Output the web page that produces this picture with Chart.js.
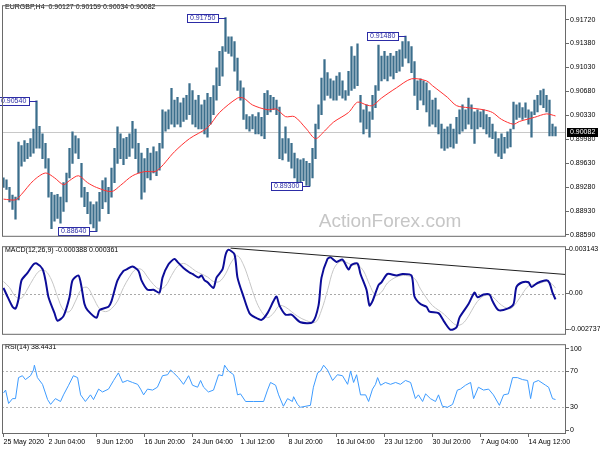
<!DOCTYPE html>
<html>
<head>
<meta charset="utf-8">
<script src="https://cdn.jsdelivr.net/npm/chart.js@4.4.0/dist/chart.umd.min.js"></script>
<style>
  html, body { margin: 0; padding: 0; background: #fff; }
  #wrap { position: relative; width: 600px; height: 450px; overflow: hidden; background: #fff; }
  canvas { position: absolute; left: 0; }
</style>
</head>
<body>
<div id="wrap">
  <canvas id="priceChart" width="600" height="242" style="top:0px"></canvas>
  <canvas id="macdChart" width="600" height="97" style="top:242px"></canvas>
  <canvas id="rsiChart" width="600" height="111" style="top:339px"></canvas>
</div>
<script>
// ---- DATA (one entry = two H4 bars) ----
var symbol = 'EURGBP,H4';
var lastBar = [0.90127, 0.90159, 0.90034, 0.90082]; // open high low close
var watermark = 'ActionForex.com';

var barHigh = [
  0.8942,0.8939,0.8928,0.8917,0.8914,0.8994,0.8989,0.8996,0.8992,0.8999,
  0.9013,0.9054,0.9017,0.9006,0.8992,0.8970,0.8921,0.8917,0.8918,0.8914,
  0.8935,0.8949,0.8985,0.9009,0.9003,0.8999,0.8963,0.8928,0.8921,0.8907,
  0.8903,0.8907,0.8921,0.8938,0.8942,0.8928,0.8956,0.8985,0.9016,0.9006,
  0.8999,0.9001,0.9006,0.9024,0.9013,0.8992,0.8978,0.8970,0.8985,0.8978,
  0.8987,0.8980,0.8992,0.9041,0.9038,0.9041,0.9072,0.9055,0.9059,0.9051,
  0.9058,0.9062,0.9079,0.9069,0.9055,0.9062,0.9048,0.9055,0.9065,0.9059,
  0.9076,0.9102,0.9126,0.9133,0.9175,0.9147,0.9147,0.9140,0.9116,0.9083,
  0.9073,0.9034,0.9031,0.9034,0.9031,0.9037,0.9030,0.9065,0.9069,0.9062,
  0.9059,0.9055,0.9045,0.8999,0.9016,0.8999,0.8992,0.8978,0.8970,0.8968,
  0.8970,0.8966,0.8963,0.8985,0.9020,0.9048,0.9087,0.9114,0.9095,0.9086,
  0.9083,0.9090,0.9095,0.9083,0.9069,0.9097,0.9133,0.9119,0.9137,0.9062,
  0.9041,0.9048,0.9038,0.9062,0.9076,0.9135,0.9119,0.9126,0.9119,0.9123,
  0.9119,0.9126,0.9128,0.9140,0.9148,0.9140,0.9133,0.9111,0.9083,0.9086,
  0.9083,0.9080,0.9069,0.9055,0.9058,0.9041,0.9020,0.9013,0.9016,0.9020,
  0.9013,0.9030,0.9041,0.9048,0.9041,0.9058,0.9048,0.9038,0.9041,0.9038,
  0.9041,0.9034,0.9030,0.9020,0.9009,0.8999,0.9006,0.9001,0.9009,0.9013,
  0.9052,0.9048,0.9051,0.9044,0.9051,0.9041,0.9038,0.9055,0.9062,0.9069,
  0.9071,0.9062,0.9055,0.9020,0.9016
];
var barLow = [
  0.8928,0.8925,0.8907,0.8896,0.8882,0.8910,0.8959,0.8966,0.8970,0.8973,
  0.8978,0.8985,0.8985,0.8970,0.8956,0.8914,0.8868,0.8879,0.8883,0.8876,
  0.8893,0.8907,0.8942,0.8963,0.8978,0.8970,0.8914,0.8900,0.8890,0.8875,
  0.8869,0.8864,0.8879,0.8897,0.8907,0.8890,0.8914,0.8935,0.8963,0.8970,
  0.8961,0.8970,0.8973,0.8985,0.8970,0.8949,0.8911,0.8921,0.8942,0.8939,
  0.8949,0.8945,0.8953,0.8985,0.9010,0.9013,0.9020,0.9016,0.9020,0.9016,
  0.9024,0.9027,0.9034,0.9020,0.9016,0.9013,0.9013,0.9006,0.9001,0.9020,
  0.9034,0.9055,0.9076,0.9090,0.9126,0.9123,0.9119,0.9097,0.9069,0.9055,
  0.9027,0.9013,0.9010,0.9013,0.9006,0.9006,0.9003,0.8999,0.9034,0.9038,
  0.9041,0.9034,0.8970,0.8968,0.8978,0.8966,0.8956,0.8942,0.8932,0.8935,
  0.8938,0.8931,0.8930,0.8942,0.8970,0.9013,0.9034,0.9055,0.9062,0.9058,
  0.9055,0.9055,0.9062,0.9058,0.9055,0.9062,0.9069,0.9072,0.9076,0.9023,
  0.9006,0.9013,0.9001,0.9027,0.9044,0.9069,0.9083,0.9086,0.9083,0.9090,
  0.9086,0.9095,0.9097,0.9104,0.9116,0.9109,0.9095,0.9062,0.9041,0.9055,
  0.9048,0.9038,0.9017,0.9020,0.9016,0.9006,0.8985,0.8982,0.8985,0.8987,
  0.8985,0.8992,0.9006,0.9010,0.9013,0.9020,0.9013,0.8992,0.9013,0.9016,
  0.9013,0.9006,0.9001,0.8999,0.8978,0.8973,0.8970,0.8978,0.8985,0.8987,
  0.9013,0.9027,0.9030,0.9027,0.9030,0.9020,0.9001,0.9034,0.9038,0.9048,
  0.9044,0.9038,0.9003,0.9003,0.9003
];

// moving average (red)
var maIdx = [0,4,6,10,14,17,20,22,25,28,31,36,39,43,47,51,57,62,68,72,78,80,83,88,91,94,97,101,104,107,110,115,118,121,123,126,131,136,141,143,148,151,155,160,163,166,170,172,177,181,184];
var maVal = [0.8911,0.8910,0.8918,0.8938,0.8949,0.8942,0.8932,0.8938,0.8945,0.8935,0.8928,0.8922,0.8931,0.8945,0.8951,0.8952,0.8980,0.8999,0.9015,0.9037,0.9058,0.9058,0.9048,0.9041,0.9042,0.9031,0.9031,0.9013,0.8999,0.9010,0.9023,0.9037,0.9052,0.9048,0.9047,0.9058,0.9073,0.9086,0.9083,0.9076,0.9059,0.9047,0.9044,0.9041,0.9037,0.9027,0.9020,0.9024,0.9030,0.9035,0.9032];

// marked highs / lows
var markIdx = [11, 31, 74, 102, 134];
var markVal = [0.90540, 0.88640, 0.91750, 0.89300, 0.91480];

var priceRange = [0.88562, 0.91931];
var priceTicks = [0.88590,0.88930,0.89280,0.89630,0.89980,0.90330,0.90680,0.91030,0.91380,0.91720];

var timeTickIdx = [0, 15, 31, 47, 63, 79, 95, 111, 127, 143, 159, 175];
var timeTickLabels = ['25 May 2020','2 Jun 04:00','9 Jun 12:00','16 Jun 20:00','24 Jun 04:00','1 Jul 12:00','8 Jul 20:00','16 Jul 04:00','23 Jul 12:00','30 Jul 20:00','7 Aug 04:00','14 Aug 12:00'];

// MACD
var macdNow = [-0.000388, 0.000361];
var macdRange = [-0.002737, 0.003143];
var macdTickLabels = ['0.003143', '0.00', '-0.002737'];
var macdIdx = [0,1,3,4,5,6,8,10,11,13,14,15,17,18,20,22,23,25,26,27,28,31,32,35,36,38,40,41,43,45,46,48,50,52,53,55,57,58,60,62,63,65,66,67,68,70,71,73,74,75,77,78,80,82,84,86,88,90,91,92,94,96,99,103,105,106,108,109,111,113,115,116,118,119,121,122,123,125,126,128,131,133,136,137,139,141,142,145,147,149,151,152,155,157,158,160,162,163,165,168,170,171,173,175,176,178,181,182,183,184];
var macdVal = [
  0.000375,-0.00006,-0.000875,-0.001,-0.000375,0.000875,0.001375,0.00194,0.002,0.001625,
  0.000875,-0.00025,-0.0013,-0.0018,-0.0015,-0.00025,0.000875,0.0012,0.00044,-0.0007,
  -0.0011,-0.0016,-0.0011,-0.000875,-0.0005,0.000875,0.0015,0.0016,0.0018,0.0015,
  0.000875,0.00025,0.00025,0.00006,0.00106,0.00194,0.0023,0.0021,0.0017,0.0014,
  0.0013,0.00106,0.0012,0.000875,0.00075,0.000375,0.00106,0.0016,0.00256,0.0029,
  0.0026,0.00106,-0.0002,-0.0013,-0.0016,-0.00175,-0.0013,-0.0005,-0.0002,-0.0008,
  -0.0014,-0.0014,-0.0019,-0.0019,-0.0008,0.00106,0.0023,0.0024,0.0021,0.00225,
  0.0016,0.0019,0.002,0.0013,0.00025,-0.0008,-0.0005,0.00056,0.00075,0.0013,
  0.0012,0.0013,0.0012,-0.0002,-0.0007,-0.000875,-0.0012,-0.0013,-0.0019,-0.0024,
  -0.00225,-0.0016,-0.0007,0.00006,-0.00025,-0.00006,-0.00006,-0.0005,-0.0011,-0.001,
  -0.0007,0.00044,0.00075,0.00075,0.00044,0.0007,0.000875,0.0007,0.00006,-0.000388
];
var sigIdx = [0,2,4,6,8,10,12,14,16,18,20,22,24,26,28,30,32,34,36,38,40,42,44,46,48,50,52,54,56,58,60,62,64,66,68,70,72,74,76,78,80,82,84,86,88,90,92,94,96,98,101,104,106,108,110,112,114,116,118,120,122,124,126,128,131,134,137,139,141,143,145,147,149,151,153,155,157,159,161,163,165,167,169,171,173,175,177,179,181,183,184];
var sigVal = [
  0.0008,0.0004,-0.0002,-0.0003,0.0003,0.0010,0.0015,0.0015,0.0009,-0.0002,
  -0.0011,-0.0012,-0.0005,0.0003,0.0004,-0.0003,-0.0010,-0.0012,-0.0010,-0.0005,
  0.0004,0.0011,0.0016,0.0016,0.0011,0.0006,0.0003,0.0005,0.0012,0.0018,
  0.0020,0.0018,0.0015,0.0013,0.0011,0.0008,0.0008,0.0013,0.0021,0.0025,
  0.0019,0.0008,-0.0004,-0.0012,-0.0016,-0.0013,-0.0008,-0.0009,-0.0012,-0.0015,
  -0.0018,-0.0019,-0.0011,0.0002,0.0016,0.0021,0.0021,0.0019,0.0019,0.0015,0.0006,-0.0001,0.0001,0.0007,
  0.0011,0.0012,0.0010,0.0003,
  -0.0003,-0.0008,-0.0011,-0.0014,-0.0018,-0.0021,-0.0020,-0.0015,-0.0008,-0.0003,-0.0001,-0.0002,-0.0006,-0.0009,-0.0010,-0.0006,0.0000,0.0005,0.0006,0.0007,0.0008,0.0006,
  0.000361
];
var trendIdx = [75.7, 187.5];
var trendVal = [0.003015, 0.001264];

// RSI
var rsiNow = 38.4431;
var rsiLevels = [30, 70];
var rsiTickLabels = ['100', '70', '30', '0'];
var rsiIdx = [0,0.7,1.7,3,4,5,6.3,7.3,9,10,10.3,11.3,13,14.7,15.7,17.3,19,20,21.7,23.3,24.7,25.7,27.3,29,30,31.7,33,35,36.7,38.3,39.7,41.3,43,44.7,45.7,46.7,48,49.7,51.3,53,54.7,55.7,56.7,58.3,60,61.7,63,64.7,65.7,66.7,68.3,70,71.7,73,73.7,75,76.7,78,79,80.7,83.3,86.7,88,89,90.7,91.7,93.3,94.7,96.3,96.7,98,99,102.3,103.3,104.7,105.7,106.7,108,109.7,111.3,113,114.7,115.7,116.7,117.7,119,120.7,121.7,123,124,124.7,125.7,127.3,129,130.7,132.3,134,135.7,137.3,138.3,139.7,140.7,142.3,144,145,146.3,148,149.7,151.3,152.3,154,155.7,156.7,158.3,160,161.7,163.3,165.3,166.7,168.3,169.7,171.3,173,174.7,175.7,176.7,178.3,180.7,181.7,183,184];
var rsiVal = [
  45.7,48.9,34.0,39.4,39.4,62.8,64.9,60.6,64.9,71.3,
  76.6,62.8,55.3,38.3,33.0,39.4,36.2,43.6,54.3,64.9,
  62.8,43.6,36.2,43.6,38.3,50.0,46.8,50.0,59.6,68.1,
  57.4,59.6,57.4,55.3,50.0,43.6,50.0,48.9,52.1,64.9,
  66.0,71.3,68.1,62.8,55.3,64.9,54.3,52.1,59.6,52.1,
  46.8,48.9,66.0,64.9,76.6,70.2,66.0,43.6,44.7,36.2,
  36.2,36.2,48.9,57.4,54.3,43.6,30.9,39.4,36.2,41.5,
  33.0,29.8,31.9,52.1,68.1,70.2,76.6,71.3,59.6,66.0,
  64.9,55.3,70.2,57.4,66.0,43.6,43.6,36.2,50.0,55.3,
  62.8,54.3,57.4,55.3,57.4,55.3,59.6,57.4,39.4,43.6,
  36.2,44.7,39.4,36.2,43.6,30.9,29.8,33.0,48.9,50.0,
  54.3,57.4,39.4,52.1,48.9,50.0,43.6,31.9,43.6,44.7,
  62.8,62.8,60.6,59.6,39.4,57.4,59.6,54.3,52.1,39.4,
  38.4
];

// ---- SETUP ----
var FONT = '"Liberation Sans", Arial, sans-serif';
Chart.defaults.font.family = FONT;
Chart.defaults.font.size = 7;
Chart.defaults.color = '#000';

var X_MIN = -0.5, X_MAX = 187.5, AXIS_W = 34;

function pts(xs, ys) {
  return xs.map(function (x, i) { return { x: x, y: ys[i] }; });
}

function xAxis(show) {
  return {
    type: 'linear', min: X_MIN, max: X_MAX, display: show, offset: false,
    afterFit: function (s) { s.height = show ? 16 : 0; },
    afterBuildTicks: function (s) { s.ticks = timeTickIdx.map(function (v) { return { value: v }; }); },
    grid: { drawOnChartArea: false, drawTicks: true, tickLength: 3, color: '#6a6a6a' },
    border: { display: false },
    ticks: {
      autoSkip: false, maxRotation: 0, align: 'start', padding: 1,
      callback: function (v, i) { return timeTickLabels[i]; }
    }
  };
}

function yAxis(min, max, buildTicks, label, pad) {
  return {
    type: 'linear', position: 'right', min: min, max: max,
    afterFit: function (s) { s.width = AXIS_W; },
    afterBuildTicks: buildTicks,
    grid: { drawOnChartArea: false, drawTicks: true, tickLength: 3, color: '#6a6a6a' },
    border: { display: false },
    ticks: { autoSkip: false, padding: pad, callback: label }
  };
}

// panel border
var frame = {
  id: 'frame',
  afterDraw: function (chart) {
    var a = chart.chartArea, ctx = chart.ctx;
    ctx.save();
    ctx.strokeStyle = '#6a6a6a';
    ctx.lineWidth = 1;
    ctx.strokeRect(a.left + 0.5, a.top + 0.5, a.right - a.left - 1, a.bottom - a.top - 1);
    ctx.restore();
  }
};

function hLine(ctx, a, y, color, dash) {
  ctx.save();
  ctx.strokeStyle = color;
  ctx.lineWidth = 1;
  ctx.setLineDash(dash || []);
  ctx.beginPath();
  ctx.moveTo(a.left, Math.round(y) + 0.5);
  ctx.lineTo(a.right, Math.round(y) + 0.5);
  ctx.stroke();
  ctx.restore();
}

function panelTitle(ctx, text, y) {
  ctx.save();
  ctx.fillStyle = '#000';
  ctx.font = '7px ' + FONT;
  ctx.textBaseline = 'middle';
  ctx.fillText(text, 5, y);
  ctx.restore();
}

// ---- PRICE PANEL ----
var priceDecor = {
  id: 'priceDecor',
  beforeDatasetsDraw: function (chart) {
    var ctx = chart.ctx, a = chart.chartArea, y = chart.scales.y;
    ctx.save();
    ctx.fillStyle = '#c6c6c6';
    ctx.font = '19px ' + FONT;
    ctx.textAlign = 'center';
    ctx.textBaseline = 'middle';
    ctx.fillText(watermark, 390, 222);
    ctx.restore();
    hLine(ctx, a, y.getPixelForValue(lastBar[3]), '#c8c8c8');
  },
  afterDatasetsDraw: function (chart) {
    var ctx = chart.ctx, x = chart.scales.x, y = chart.scales.y;
    ctx.save();
    ctx.font = '7px ' + FONT;
    ctx.textBaseline = 'middle';
    ctx.lineWidth = 1;
    markIdx.forEach(function (idx, k) {
      var bx = Math.round(x.getPixelForValue(idx));
      var by = Math.round(y.getPixelForValue(markVal[k]));
      var txt = markVal[k].toFixed(5);
      var w = Math.ceil(ctx.measureText(txt).width) + 6;
      var right = bx - 7;
      ctx.fillStyle = '#fff';
      ctx.fillRect(right - w, by - 4, w, 9);
      ctx.strokeStyle = '#2c2ca6';
      ctx.strokeRect(right - w + 0.5, by - 4 + 0.5, w - 1, 8);
      ctx.beginPath();
      ctx.moveTo(right, by + 0.5);
      ctx.lineTo(bx, by + 0.5);
      ctx.stroke();
      ctx.fillStyle = '#2c2ca6';
      ctx.fillText(txt, right - w + 3, by + 0.5);
    });
    ctx.restore();
  },
  afterDraw: function (chart) {
    var ctx = chart.ctx, a = chart.chartArea, y = chart.scales.y;
    var py = Math.round(y.getPixelForValue(lastBar[3]));
    ctx.save();
    ctx.fillStyle = '#000';
    ctx.fillRect(a.right + 1, py - 4, 31, 9);
    ctx.fillStyle = '#fff';
    ctx.font = '7px ' + FONT;
    ctx.textBaseline = 'middle';
    ctx.fillText(lastBar[3].toFixed(5), a.right + 4, py + 0.5);
    ctx.restore();
    panelTitle(ctx, symbol + '  ' + lastBar.map(function (v) { return v.toFixed(5); }).join(' '), 7);
  }
};

new Chart(document.getElementById('priceChart'), {
  data: {
    datasets: [{
      type: 'line',
      data: pts(maIdx, maVal),
      borderColor: '#ff3030',
      borderWidth: 1,
      pointRadius: 0,
      tension: 0.3
    }, {
      type: 'bar',
      data: barHigh.map(function (h, i) { return { x: i, y: [barLow[i], h] }; }),
      backgroundColor: '#3b6e8c',
      borderWidth: 0,
      barThickness: 1.6
    }]
  },
  options: {
    responsive: false,
    animation: false,
    events: [],
    layout: { padding: { left: 2, top: 2, bottom: 1, right: 0 } },
    plugins: { legend: { display: false }, tooltip: { enabled: false } },
    scales: {
      x: xAxis(false),
      y: yAxis(priceRange[0], priceRange[1],
        function (s) { s.ticks = priceTicks.map(function (v) { return { value: v }; }); },
        function (v) { return v.toFixed(5); }, 1)
    }
  },
  plugins: [priceDecor, frame]
});

// ---- MACD PANEL ----
var macdDecor = {
  id: 'macdDecor',
  beforeDatasetsDraw: function (chart) {
    hLine(chart.ctx, chart.chartArea, chart.scales.y.getPixelForValue(0), '#a8a8a8', [2, 2]);
  },
  afterDraw: function (chart) {
    panelTitle(chart.ctx, 'MACD(12,26,9) ' + macdNow[0].toFixed(6) + ' ' + macdNow[1].toFixed(6), 8);
  }
};

new Chart(document.getElementById('macdChart'), {
  type: 'line',
  data: {
    datasets: [{
      data: pts(trendIdx, trendVal),
      borderColor: '#202020',
      borderWidth: 1,
      pointRadius: 0
    }, {
      data: pts(macdIdx, macdVal),
      borderColor: '#0c0c98',
      borderWidth: 2,
      pointRadius: 0,
      tension: 0.25
    }, {
      data: pts(sigIdx, sigVal),
      borderColor: '#c6c6c6',
      borderWidth: 1,
      pointRadius: 0,
      tension: 0.35
    }]
  },
  options: {
    responsive: false,
    animation: false,
    events: [],
    layout: { padding: { left: 2, top: 2, bottom: 1, right: 0 } },
    plugins: { legend: { display: false }, tooltip: { enabled: false } },
    scales: {
      x: xAxis(false),
      y: yAxis(macdRange[0], macdRange[1],
        function (s) {
          var span = s.max - s.min;
          s.ticks = [{ value: s.max - span * 3 / 94 }, { value: 0 }, { value: s.min + span * 6 / 94 }];
        },
        function (v, i) { return macdTickLabels[i]; }, 0)
    }
  },
  plugins: [macdDecor, frame]
});

// ---- RSI PANEL ----
var rsiDecor = {
  id: 'rsiDecor',
  beforeDatasetsDraw: function (chart) {
    rsiLevels.forEach(function (lv) {
      hLine(chart.ctx, chart.chartArea, chart.scales.y.getPixelForValue(lv), '#b4b4b4', [2, 2]);
    });
  },
  afterDraw: function (chart) {
    panelTitle(chart.ctx, 'RSI(14) ' + rsiNow.toFixed(4), 8);
  }
};

new Chart(document.getElementById('rsiChart'), {
  type: 'line',
  data: {
    datasets: [{
      data: pts(rsiIdx, rsiVal),
      borderColor: '#3d9bff',
      borderWidth: 1,
      pointRadius: 0,
      tension: 0
    }]
  },
  options: {
    responsive: false,
    animation: false,
    events: [],
    layout: { padding: { left: 2, top: 1, bottom: 0, right: 0 } },
    plugins: { legend: { display: false }, tooltip: { enabled: false } },
    scales: {
      x: xAxis(true),
      y: yAxis(0, 100,
        function (s) {
          s.ticks = [{ value: 100 - 5 / 0.94 }, { value: 70 }, { value: 30 }, { value: 4 / 0.94 }];
        },
        function (v, i) { return rsiTickLabels[i]; }, 1)
    }
  },
  plugins: [rsiDecor, frame]
});
</script>
</body>
</html>
